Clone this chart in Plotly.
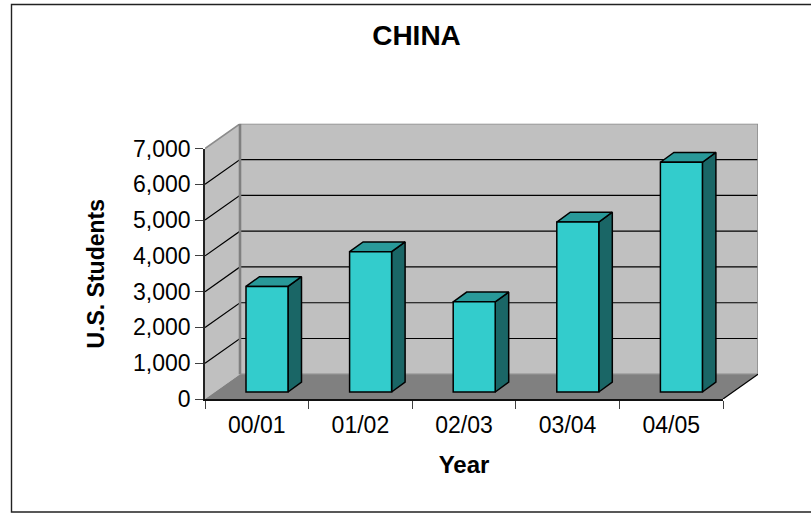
import plotly.graph_objects as go

years = ["00/01", "01/02", "02/03", "03/04", "04/05"]
students = [2950, 3920, 2520, 4750, 6420]
y_ticks = [0, 1000, 2000, 3000, 4000, 5000, 6000, 7000]

W, H = 811, 514
L, R, T, B = 205, 723, 148.5, 399
px_x = 5 / (R - L)
px_y = 7000 / (B - T)
wall_dx, wall_dy = 35 * px_x, 24.7 * px_y
bar_base_dy = 7 * px_y
bar_shift = 10.2 * px_x
bar_w = 42 * px_x
bar_dx, bar_dy = 13.5 * px_x, 9.8 * px_y

WALL, FLOOR, EDGE = "#C0C0C0", "#808080", "#8C8C8C"
FRONT, SIDE, TOP = "#33CCCC", "#1A6666", "#299999"

fig = go.Figure()


def poly(xs, ys, fill, line="rgba(0,0,0,0)", width=0):
    fig.add_trace(go.Scatter(
        x=xs + xs[:1], y=ys + ys[:1], mode="lines", fill="toself", fillcolor=fill,
        line=dict(color=line, width=width), cliponaxis=False, hoverinfo="skip", showlegend=False))


def path(xs, ys, color, width):
    fig.add_trace(go.Scatter(
        x=xs, y=ys, mode="lines", line=dict(color=color, width=width),
        cliponaxis=False, hoverinfo="skip", showlegend=False))


# walls and floor (hidden, larger x/y axes that leave room for the depth)
poly([0, wall_dx, wall_dx, 0], [0, wall_dy, 7000 + wall_dy, 7000], WALL)
poly([wall_dx, 5 + wall_dx, 5 + wall_dx, wall_dx], [wall_dy, wall_dy, 7000 + wall_dy, 7000 + wall_dy], WALL)
poly([0, 5, 5 + wall_dx, wall_dx], [0, 0, wall_dy, wall_dy], FLOOR)

# gridlines
for v in y_ticks[1:-1]:
    path([0, wall_dx, 5 + wall_dx], [v, v + wall_dy, v + wall_dy], "#000000", 1.2)

# wall edges
path([0, wall_dx, 5 + wall_dx, 5 + wall_dx],
     [7000, 7000 + wall_dy, 7000 + wall_dy, wall_dy], EDGE, 1.6)
path([wall_dx, wall_dx], [wall_dy, 7000 + wall_dy], FLOOR, 2.6)
path([wall_dx, 5 + wall_dx], [wall_dy, wall_dy], EDGE, 1.4)
path([5, 5 + wall_dx], [0, wall_dy], "#000000", 1.2)

# bar side and top faces
for i, v in enumerate(students):
    xl = i + 0.5 + bar_shift - bar_w / 2
    xr = xl + bar_w
    yb = bar_base_dy
    yt = bar_base_dy + v
    poly([xr, xr + bar_dx, xr + bar_dx, xr], [yb, yb + bar_dy, yt + bar_dy, yt], SIDE, "#000000", 1.5)
    poly([xl, xr, xr + bar_dx, xl + bar_dx], [yt, yt, yt + bar_dy, yt + bar_dy], TOP, "#000000", 1.5)

# bar fronts, on the visible axes
fig.add_trace(go.Bar(
    x=years, y=students, base=bar_base_dy, xaxis="x2", yaxis="y2",
    width=bar_w, offset=bar_shift - bar_w / 2,
    marker=dict(color=FRONT, line=dict(color="#000000", width=1.5)),
    showlegend=False))

FONT = "Liberation Sans, Arial, sans-serif"
fig.update_layout(
    width=W, height=H,
    margin=dict(l=0, r=0, t=0, b=0, autoexpand=False),
    paper_bgcolor="#FFFFFF", plot_bgcolor="rgba(0,0,0,0)",
    showlegend=False,
    font=dict(family=FONT, color="#000000"),
    title=dict(text="<b>CHINA</b>", x=416.5 / W, xanchor="center", y=1 - 35 / H, yanchor="middle",
               font=dict(size=28, family=FONT, color="#000000")),
    xaxis=dict(domain=[L / W, (R + 35) / W], range=[0, 5 + wall_dx], visible=False, fixedrange=True),
    yaxis=dict(domain=[1 - B / H, 1 - (T - 24.7) / H], range=[0, 7000 + wall_dy], visible=False, fixedrange=True),
    xaxis2=dict(domain=[L / W, R / W], anchor="y2", side="bottom", type="category",
                categoryorder="array", categoryarray=years, range=[-0.5, 4.5], tickson="boundaries",
                ticks="outside", ticklen=8, tickwidth=1.2, tickcolor="#404040",
                showline=True, linecolor="#111111", linewidth=2.4, showgrid=False,
                tickfont=dict(size=23, family=FONT), ticklabelstandoff=4,
                title=dict(text="<b>Year</b>", font=dict(size=24, family=FONT), standoff=19)),
    yaxis2=dict(domain=[1 - B / H, 1 - T / H], anchor="x2", range=[0, 7000], tickvals=y_ticks, tickformat=",",
                ticks="outside", ticklen=8, tickwidth=1.2, tickcolor="#404040",
                showline=True, linecolor="#222222", linewidth=1.6, showgrid=False, zeroline=False,
                tickfont=dict(size=23, family=FONT),
                title=dict(text="<b>U.S. Students</b>", font=dict(size=23, family=FONT), standoff=22)),
    shapes=[dict(type="rect", xref="paper", yref="paper", x0=11.5 / W, x1=(W + 10) / W,
                 y0=1 - 512 / H, y1=1 - 4.5 / H, line=dict(color="#222222", width=1.4),
                 fillcolor="rgba(0,0,0,0)", layer="below")],
)
fig.write_html("out.html", config=dict(displayModeBar=False),
               post_script="document.body.style.margin='0';")
